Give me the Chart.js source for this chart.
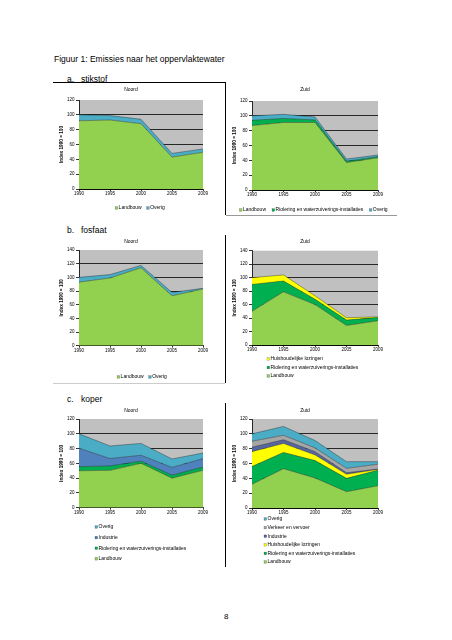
<!DOCTYPE html>
<html><head><meta charset="utf-8">
<script src="https://cdn.jsdelivr.net/npm/chart.js@4.4.0/dist/chart.umd.min.js"></script>
<style>
html,body{margin:0;padding:0;background:#fff;}
body{width:452px;height:640px;position:relative;overflow:hidden;font-family:'Liberation Sans',Arial,sans-serif;color:#000;}
.t{position:absolute;white-space:nowrap;font-size:8.5px;line-height:10px;}
.ln{position:absolute;background:#000;}
canvas{position:absolute;}
</style></head><body>
<div class="t" style="left:54px;top:54px">Figuur 1: Emissies naar het oppervlaktewater</div>
<div class="t" style="left:67px;top:74px">a.</div><div class="t" style="left:81px;top:74px">stikstof</div>
<div class="t" style="left:67px;top:225px">b.</div><div class="t" style="left:81px;top:225px">fosfaat</div>
<div class="t" style="left:67px;top:394px">c.</div><div class="t" style="left:81px;top:394px">koper</div>
<div class="t" style="left:224px;top:612px;font-size:8px">8</div>

<div class="ln" style="left:53px;top:82px;width:173px;height:1px"></div>
<div class="ln" style="left:225px;top:82px;width:1px;height:133px"></div>
<div class="ln" style="left:226px;top:215px;width:171px;height:1px;background:#999"></div>
<div class="ln" style="left:225px;top:235px;width:1px;height:148px"></div>
<div class="ln" style="left:53px;top:383px;width:172px;height:1px;background:#ccc"></div>
<div class="ln" style="left:225px;top:403px;width:1px;height:164px"></div>

<canvas id="aN"></canvas><canvas id="aZ"></canvas>
<canvas id="bN"></canvas><canvas id="bZ"></canvas>
<canvas id="cN"></canvas><canvas id="cZ"></canvas>
<script>
// ---- data ----
const years = ['1990', '1995', '2000', '2005', '2009'];
const yTitle = 'Index 1990 = 100';
const yStep = 20;
const yMaxStikstof = 120, yMaxFosfaat = 140, yMaxKoper = 120;

const lblLandbouw = 'Landbouw';
const lblOverig = 'Overig';
const lblRiolering = 'Riolering en waterzuiverings-installaties';
const lblHuish = 'Huishoudelijke lozingen';
const lblIndustrie = 'Industrie';
const lblVerkeer = 'Verkeer en vervoer';

// a. stikstof
const nNoordLandbouw = [92, 93, 88, 43, 49.5];
const nNoordOverig   = [8, 6, 6, 5, 4.5];
const nZuidLandbouw  = [87, 91, 91, 37, 43.5];
const nZuidRiolering = [7, 5.5, 3.5, 1.8, 1.5];
const nZuidOverig    = [6, 5.5, 4, 3, 2.2];
// b. fosfaat
const pNoordLandbouw = [93, 99, 114, 73, 83];
const pNoordOverig   = [7, 5, 3.5, 5, 1];
const pZuidLandbouw  = [50, 79, 60, 29, 36];
const pZuidRiolering = [40, 16, 8, 8, 5];
const pZuidHuish     = [10, 9, 5, 3.5, 0.8];
// c. koper
const cNoordLandbouw = [50, 50.5, 60, 40, 50.5];
const cNoordRiolering= [5.5, 6, 3, 4, 4.5];
const cNoordIndustrie= [25, 10, 8, 10.5, 11.5];
const cNoordOverig   = [19.5, 17, 16, 11.5, 7.5];
const cZuidLandbouw  = [32, 53, 40.5, 22, 30];
const cZuidRiolering = [24, 22, 23.5, 18, 21];
const cZuidHuish     = [20, 12, 7.5, 5.5, 1];
const cZuidIndustrie = [6, 5, 4.5, 2, 0.5];
const cZuidVerkeer   = [8, 6, 5, 6, 6.5];
const cZuidOverig    = [10, 12, 10, 9, 3.5];

// ---- styles ----
const FONT = "'Liberation Sans', Arial, sans-serif";
const colLandbouw = '#92D050', colOverig = '#4BACC6', colRiolering = '#00B050',
      colHuish = '#FFFF00', colIndustrie = '#4F81BD', colIndustrieZ = '#56679E', colVerkeer = '#A6A6A6';

const plotBg = {
  id: 'plotBg',
  beforeDraw(chart) {
    const a = chart.chartArea, ctx = chart.ctx;
    ctx.save(); ctx.fillStyle = '#C0C0C0';
    ctx.fillRect(a.left, a.top, a.right - a.left, a.bottom - a.top);
    ctx.restore();
  }
};
function drawItem(ctx, it, x, y, bs, gap) {
  ctx.fillStyle = it.color;
  ctx.fillRect(x, y - bs / 2, bs, bs);
  ctx.strokeStyle = 'rgba(0,0,0,0.45)'; ctx.lineWidth = 0.4;
  ctx.strokeRect(x, y - bs / 2, bs, bs);
  ctx.fillStyle = '#000';
  ctx.fillText(it.text, x + bs + gap, y);
}
const miniLegend = {
  id: 'miniLegend',
  afterDraw(chart, args, o) {
    const ctx = chart.ctx;
    let items = chart.data.datasets.map(d => ({text: d.label, color: d.backgroundColor}));
    if (o.mode === 'col') items = items.slice().reverse();
    ctx.save();
    ctx.font = o.size + 'px ' + FONT;
    ctx.textBaseline = 'middle'; ctx.textAlign = 'left';
    const bs = 2.6, gap = 0.9;
    if (o.mode === 'row') {
      const ws = items.map(it => bs + gap + ctx.measureText(it.text).width);
      const total = ws.reduce((a, b) => a + b, 0) + o.itemGap * (items.length - 1);
      let x = o.cx - total / 2;
      items.forEach((it, i) => { drawItem(ctx, it, x, o.y, bs, gap); x += ws[i] + o.itemGap; });
    } else {
      items.forEach((it, i) => drawItem(ctx, it, o.x, o.y + i * o.dy, bs, gap));
    }
    ctx.restore();
  }
};

function makeChart(id, g, series, yMax, leg) {
  const c = document.getElementById(id);
  c.width = g.w; c.height = g.h;
  c.style.left = g.x + 'px'; c.style.top = g.y + 'px';
  c.style.width = g.w + 'px'; c.style.height = g.h + 'px';
  const YW = 20, XH = 8, TLH = 6;
  const tPadTop = g.titleY - g.y - TLH / 2;
  const tPadBot = g.T - g.y - tPadTop - TLH;
  const legOpts = leg.mode === 'row'
    ? {mode: 'row', cx: leg.cx - g.x, y: leg.y - g.y, size: 5, itemGap: leg.itemGap || 5}
    : {mode: 'col', x: leg.x - g.x, y: leg.y - g.y, dy: leg.dy, size: 5};
  new Chart(c, {
    type: 'line',
    data: {
      labels: years,
      datasets: series.map((s, i) => ({
        label: s.label, data: s.data, backgroundColor: s.color,
        borderColor: 'rgba(0,0,0,0.55)', borderWidth: 0.6,
        pointRadius: 0, pointHoverRadius: 0, tension: 0,
        fill: i === 0 ? 'origin' : '-1'
      }))
    },
    options: {
      responsive: false, animation: false, devicePixelRatio: 1,
      events: [],
      layout: {padding: {left: g.L - YW - g.x, right: g.x + g.w - g.R, top: 0, bottom: g.y + g.h - g.B - XH}},
      plugins: {
        legend: {display: false}, tooltip: {enabled: false},
        title: {display: true, text: g.title, color: '#000',
          font: {family: FONT, size: 5, weight: 'normal', lineHeight: 1.2},
          padding: {top: tPadTop, bottom: tPadBot}},
        miniLegend: legOpts
      },
      scales: {
        x: {
          type: 'category', offset: false,
          grid: {display: true, drawOnChartArea: false, drawTicks: true, tickLength: 2, color: '#000', lineWidth: 0.8},
          border: {display: true, color: '#000', width: 0.8},
          ticks: {font: {family: FONT, size: 4.5}, color: '#000', padding: 0.5, maxRotation: 0, autoSkip: false},
          afterFit: s => { s.height = XH; }
        },
        y: {
          stacked: true, min: 0, max: yMax,
          ticks: {stepSize: yStep, font: {family: FONT, size: 4.5}, color: '#000', padding: 1.5},
          grid: {color: ctx => (ctx.tick && ctx.tick.value === yMax) ? 'rgba(0,0,0,0)' : '#000',
                 tickColor: '#000', lineWidth: 0.8, tickLength: 3},
          border: {display: true, color: '#000', width: 0.8},
          title: {display: true, text: yTitle, color: '#000',
                  font: {family: FONT, size: 4.7, weight: 'bold'}, padding: {top: 0.3, bottom: 0}},
          afterFit: s => { s.width = YW; }
        }
      }
    },
    plugins: [plotBg, miniLegend]
  });
}

makeChart('aN', {x: 53, y: 83, w: 172, h: 132, L: 79, T: 100, R: 203, B: 189, titleY: 89.5, title: 'Noord'},
  [{label: lblLandbouw, data: nNoordLandbouw, color: colLandbouw},
   {label: lblOverig, data: nNoordOverig, color: colOverig}],
  yMaxStikstof, {mode: 'row', cx: 140, y: 208});

makeChart('aZ', {x: 227, y: 83, w: 170, h: 132, L: 252, T: 101, R: 378, B: 190, titleY: 89.5, title: 'Zuid'},
  [{label: lblLandbouw, data: nZuidLandbouw, color: colLandbouw},
   {label: lblRiolering, data: nZuidRiolering, color: colRiolering},
   {label: lblOverig, data: nZuidOverig, color: colOverig}],
  yMaxStikstof, {mode: 'row', cx: 313.5, y: 210, itemGap: 6});

makeChart('bN', {x: 53, y: 236, w: 172, h: 146, L: 79, T: 250, R: 203, B: 345.7, titleY: 241.5, title: 'Noord'},
  [{label: lblLandbouw, data: pNoordLandbouw, color: colLandbouw},
   {label: lblOverig, data: pNoordOverig, color: colOverig}],
  yMaxFosfaat, {mode: 'row', cx: 142, y: 377});

makeChart('bZ', {x: 227, y: 236, w: 170, h: 146, L: 252, T: 250.7, R: 378, B: 345, titleY: 242, title: 'Zuid'},
  [{label: lblLandbouw, data: pZuidLandbouw, color: colLandbouw},
   {label: lblRiolering, data: pZuidRiolering, color: colRiolering},
   {label: lblHuish, data: pZuidHuish, color: colHuish}],
  yMaxFosfaat, {mode: 'col', x: 267, y: 359, dy: 8.5});

makeChart('cN', {x: 53, y: 404, w: 172, h: 162, L: 79, T: 419, R: 203, B: 507.7, titleY: 410.5, title: 'Noord'},
  [{label: lblLandbouw, data: cNoordLandbouw, color: colLandbouw},
   {label: lblRiolering, data: cNoordRiolering, color: colRiolering},
   {label: lblIndustrie, data: cNoordIndustrie, color: colIndustrie},
   {label: lblOverig, data: cNoordOverig, color: colOverig}],
  yMaxKoper, {mode: 'col', x: 95, y: 527, dy: 10.6});

makeChart('cZ', {x: 227, y: 404, w: 170, h: 164, L: 252, T: 419, R: 378, B: 508, titleY: 410.5, title: 'Zuid'},
  [{label: lblLandbouw, data: cZuidLandbouw, color: colLandbouw},
   {label: lblRiolering, data: cZuidRiolering, color: colRiolering},
   {label: lblHuish, data: cZuidHuish, color: colHuish},
   {label: lblIndustrie, data: cZuidIndustrie, color: colIndustrieZ},
   {label: lblVerkeer, data: cZuidVerkeer, color: colVerkeer},
   {label: lblOverig, data: cZuidOverig, color: colOverig}],
  yMaxKoper, {mode: 'col', x: 264, y: 519, dy: 8.6});
</script>
</body></html>
